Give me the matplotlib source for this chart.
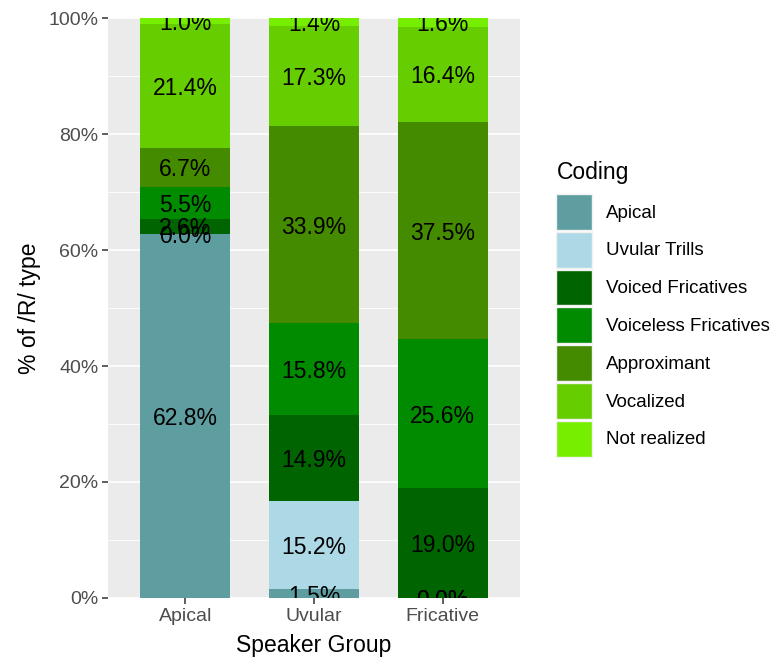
import numpy as np
import matplotlib.pyplot as plt
from matplotlib.patches import Patch
from matplotlib.ticker import FuncFormatter, MultipleLocator

plt.rcParams['font.family'] = ['Liberation Sans', 'DejaVu Sans']

# Data (percent of /R/ type per speaker group)
groups = ["Apical", "Uvular", "Fricative"]
codings = ["Apical", "Uvular Trills", "Voiced Fricatives", "Voiceless Fricatives",
           "Approximant", "Vocalized", "Not realized"]
apical_vals = [62.8, 0.0, 2.6, 5.5, 6.7, 21.4, 1.0]
uvular_vals = [1.5, 15.2, 14.9, 15.8, 33.9, 17.3, 1.4]
fricative_vals = [0.0, 0.0, 19.0, 25.6, 37.5, 16.4, 1.6]
colors = ["#5F9EA0", "#ADD8E6", "#006400", "#008B00", "#458B00", "#66CD00", "#76EE00"]

values = np.array([apical_vals, uvular_vals, fricative_vals])  # groups x codings

fig = plt.figure(figsize=(7.79, 6.57), dpi=100)
ax = fig.add_axes([108 / 779, 59 / 657, 412 / 779, 580 / 657])
ax.set_facecolor("#EBEBEB")

x = np.arange(1, len(groups) + 1)
bottom = np.zeros(len(groups))
for j, name in enumerate(codings):
    h = values[:, j]
    ax.bar(x, h, bottom=bottom, width=0.7, color=colors[j], zorder=2)
    for i in range(len(groups)):
        t = ax.text(x[i], bottom[i] + h[i] / 2, f"{h[i]:.1f}%", ha="center",
                    va="center_baseline", fontsize=16.5, color="black", zorder=3)
        t.set_clip_on(True)  # panel clips labels like ggplot
    bottom += h

ax.set_xlim(0.4, 3.6)
ax.set_ylim(0, 100)
ax.set_xticks(x)
ax.set_xticklabels(groups)
ax.yaxis.set_major_locator(MultipleLocator(20))
ax.yaxis.set_minor_locator(MultipleLocator(10))
ax.yaxis.set_major_formatter(FuncFormatter(lambda v, p: f"{v:.0f}%"))
ax.grid(True, which="major", color="white", linewidth=1.2, zorder=0)
ax.grid(True, which="minor", axis="y", color="white", linewidth=0.6, zorder=0)
ax.set_axisbelow(True)
for s in ax.spines.values():
    s.set_visible(False)
ax.tick_params(axis="both", which="major", colors="#333333", labelcolor="#4D4D4D",
               labelsize=14, length=4, width=1.1, pad=3)
ax.tick_params(axis="y", which="minor", length=0)

ax.set_xlabel("Speaker Group", fontsize=16.5, labelpad=7)
ax.set_ylabel("% of /R/ type", fontsize=16.5, labelpad=5)

# legend
fig.text(557 / 779, 1 - 173 / 657, "Coding", fontsize=16.5, ha="left", va="center")
handles = [Patch(facecolor=c, edgecolor="#F2F2F2", linewidth=1) for c in colors]
leg = fig.legend(handles, codings, loc="upper left", bbox_to_anchor=(556 / 779, 1 - 194 / 657),
                 fontsize=13.5, frameon=False, borderpad=0,
                 handlelength=1.93, handleheight=2.55, labelspacing=0.115,
                 handletextpad=0.72, borderaxespad=0)

plt.savefig("out.png", dpi=100)
